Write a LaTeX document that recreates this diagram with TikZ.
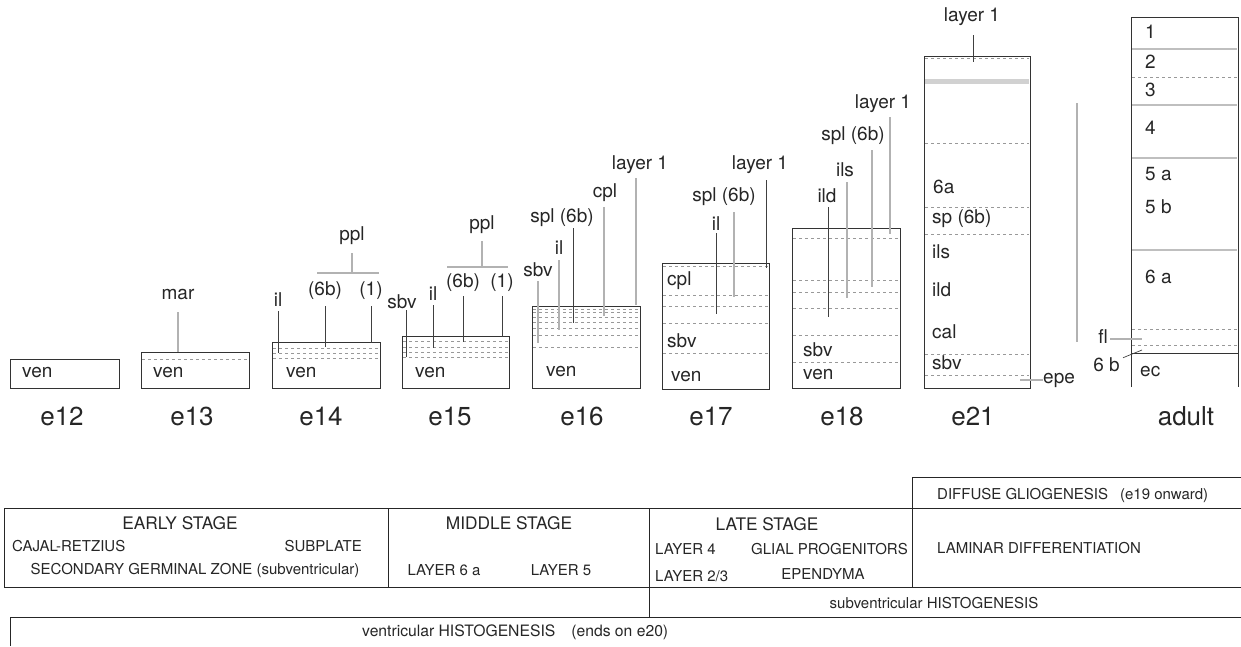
\documentclass[tikz,border=0pt]{standalone}
\usepackage{fontspec}
\setmainfont{TeX Gyre Heros}
\usetikzlibrary{
  positioning,
}
% leader line with its label: [style]{name}{x}{y top}{y bottom}{label pos}{text}
\newcommand{\ldr}[7][leadk]{%
  \coordinate (#2-t) at (#3,#4);
  \coordinate (#2-b) at (#3,#5);
  \draw[#1] (#2-t) -- (#2-b);
  \node[lbl] (#2) at (#6) {#7};
}
\tikzset{
  every node/.style={
    text=black!85
  },
  lbl/.style={
    font=\fontsize{19}{22}\selectfont,
    inner sep=0pt
  },
  intext/.style={
    lbl,
    anchor=west
  },
  age/.style={
    font=\fontsize{26}{30}\selectfont,
    inner sep=0pt
  },
  head/.style={
    font=\fontsize{17.3}{20}\selectfont,
    inner sep=0pt
  },
  cell/.style={
    font=\fontsize{15}{18}\selectfont,
    inner sep=0pt
  },
  ebox/.style={
    draw=black!80,
    line width=0.9pt
  },
  zone/.style={
    draw=black!40,
    dash pattern=on 3pt off 3pt,
    line width=0.5pt
  },
  band/.style={
    draw=black!25,
    line width=1.2pt
  },
  leadk/.style={
    draw=black!75,
    line width=0.7pt
  },
  leadg/.style={
    draw=black!30,
    line width=1.3pt
  },
  sheet/.style={
    draw=black!85,
    line width=0.9pt
  }
}

\begin{document}
\begin{tikzpicture}[x=1pt,y=-1pt]
\useasboundingbox (0,0) rectangle (1241,646);

% e12
\draw[ebox] (10,359) rectangle (119,388);
\node[intext] (v12) at (22,373) {ven};

% e13
\draw[ebox] (141,352) rectangle (249,388);
\draw[zone] (142,359) -- (248,359);
\node[intext] (v13) at (153,373) {ven};
\ldr[leadg]{mar13}{178}{312}{352}{178,295}{mar}

% e14
\draw[ebox] (272,342) rectangle (380,388);
\foreach \y in {348,353,358}
  \draw[zone] (273,\y) -- (379,\y);
\node[intext] (v14) at (286,373) {ven};
\ldr{il14}{278}{311}{353}{278,300}{il}
\ldr{sb14}{325}{306}{347}{325,291}{(6b)}
\ldr{on14}{371}{306}{343}{371,291}{(1)}
\ldr[leadg]{ppl14}{352}{253}{273}{352,236}{ppl}
\coordinate (ppl14-l) at (317,273);
\coordinate (ppl14-r) at (379,273);
\draw[leadg] (ppl14-l) -- (ppl14-r);

% e15
\draw[ebox] (402,336) rectangle (509,388);
\foreach \y in {341,347,352,357}
  \draw[zone] (403,\y) -- (508,\y);
\node[intext] (v15) at (415,373) {ven};
\ldr{sbv15}{406}{310}{357}{402,302}{sbv}
\ldr{il15}{433}{305}{348}{433,294}{il}
\ldr{sb15}{463}{296}{342}{463,283}{(6b)}
\ldr{on15}{502}{296}{337}{502,283}{(1)}
\ldr[leadg]{ppl15}{482}{241}{267}{482,225}{ppl}
\coordinate (ppl15-l) at (447,267);
\coordinate (ppl15-r) at (508,267);
\draw[leadg] (ppl15-l) -- (ppl15-r);

% e16
\draw[ebox] (532,306) rectangle (640,388);
\foreach \y in {309,312,317,322,328,335,347}
  \draw[zone] (533,\y) -- (639,\y);
\node[intext] (v16) at (546,372) {ven};
\ldr[leadg]{sbv16}{538}{281}{343}{538,270}{sbv}
\ldr[leadg]{il16}{559}{260}{330}{559,248}{il}
\ldr{spl16}{573}{228}{323}{562,218}{spl (6b)}
\ldr[leadg]{cpl16}{604}{207}{316}{605,193}{cpl}
\ldr[leadg]{lay16}{636}{178}{305}{640,165}{layer 1}

% e17
\draw[ebox] (662,263) rectangle (769,389);
\foreach \y in {266,295,306,323,353}
  \draw[zone] (663,\y) -- (768,\y);
\node[intext] (c17) at (667,281) {cpl};
\node[intext] (s17) at (667,341) {sbv};
\node[intext] (v17) at (671,377) {ven};
\ldr{il17}{716}{233}{314}{716,224}{il}
\ldr[leadg]{spl17}{734}{212}{297}{724,197}{spl (6b)}
\ldr{lay17}{766}{180}{268}{760,165}{layer 1}

% e18
\draw[ebox] (792,228) rectangle (900,388);
\foreach \y in {238,280,292,308,335,362}
  \draw[zone] (793,\y) -- (899,\y);
\node[intext] (s18) at (803,350) {sbv};
\node[intext] (v18) at (803,375) {ven};
\ldr{ild18}{828}{207}{317}{827,196}{ild}
\ldr[leadg]{ils18}{847}{182}{298}{845,170}{ils}
\ldr[leadg]{spl18}{872}{150}{287}{853,136}{spl (6b)}
\ldr[leadg]{lay18}{890}{117}{234}{883,104}{layer 1}

% e21
\draw[ebox] (924,56) rectangle (1030,388);
\draw[zone] (925,58) -- (1029,58);
\draw[black!18,line width=5pt] (925,81) -- (1029,81);
\foreach \y in {143,207,234,354,375}
  \draw[zone] (925,\y) -- (1029,\y);
\node[intext] (a21) at (933,187) {6a};
\node[intext] (sp21) at (932,219) {sp (6b)};
\node[intext] (is21) at (932,252) {ils};
\node[intext] (id21) at (932,290) {ild};
\node[intext] (ca21) at (932,332) {cal};
\node[intext] (sv21) at (932,363) {sbv};
\ldr{lay21}{973}{35}{62}{972,17}{layer 1}
\node[lbl,anchor=west] (epe) at (1043,380) {epe};
\coordinate (epe-t) at (1020,380);
\draw[leadg] (epe-t) -- (epe.west);
\coordinate (gv-t) at (1077,103);
\coordinate (gv-b) at (1077,342);
\draw[leadg] (gv-t) -- (gv-b);

% adult
\draw[ebox] (1131,387) -- (1131,17) -- (1238,17) -- (1238,387);
\foreach \y in {49,105,158,250}
  \draw[band] (1132,\y) -- (1237,\y);
\foreach \y in {77,329,345}
  \draw[zone] (1132,\y) -- (1237,\y);
\draw[ebox] (1131,353) -- (1238,353);
\foreach \t/\y in {1/32,2/62,3/90,4/128,5 a/174,5 b/207,6 a/277}
  \node[intext] at (1145,\y) {\t};
\node[intext] (ec) at (1140,372) {ec};
\node[lbl,anchor=east] (fl) at (1108,337) {fl};
\coordinate (fl-e) at (1142,339);
\draw[leadg] (fl.east |- fl-e) ++(2,0) -- (fl-e);
\node[lbl,anchor=east] (sixb) at (1120,365) {6 b};
\coordinate (sixb-e) at (1142,350);
\draw[leadk] (sixb.north east) ++(3,0) -- (sixb-e);

% ages
\foreach \t/\x in {e12/62,e13/192,e14/321,e15/450,e16/582,e17/711,e18/842,e21/973,adult/1186}
  \node[age] (\t) at (\x,416) {\t};

% stages table
\draw[sheet] (4,508) -- (1241,508);
\draw[sheet] (4,587) -- (1241,587);
\draw[sheet] (4,508) -- (4,587);
\draw[sheet] (388,508) -- (388,587);
\draw[sheet] (649,508) -- (649,617);
\draw[sheet] (912,477) -- (912,587);
\draw[sheet] (912,477) -- (1241,477);
\draw[sheet] (649,617) -- (1241,617);
\draw[sheet] (10,646) -- (10,617) -- (912,617);

\node[head] (early) at (180,523) {EARLY STAGE};
\node[cell,anchor=west] (cr) at (12,546) {CAJAL-RETZIUS};
\node[cell,anchor=east] (subp) at (362,546) {SUBPLATE};
\node[cell] (sgz) at (195,570) {SECONDARY GERMINAL ZONE (subventricular)};

\node[head] (middle) at (509,523) {MIDDLE STAGE};
\node[cell] (l6a) at (444,570) {LAYER 6 a};
\node[cell] (l5) at (561,570) {LAYER 5};

\node[head] (late) at (767,524) {LATE STAGE};
\node[cell,anchor=west] (l4) at (655,549) {LAYER 4};
\node[cell,anchor=east] (glia) at (908,549) {GLIAL PROGENITORS};
\node[cell,anchor=west] (l23) at (655,576) {LAYER 2/3};
\node[cell] (epen) at (823,574) {EPENDYMA};

\node[cell,anchor=west] (diff) at (937,495) {DIFFUSE GLIOGENESIS\hspace{12pt}(e19 onward)};
\node[cell,anchor=west] (lam) at (937,548) {LAMINAR DIFFERENTIATION};
\node[cell] (svh) at (934,603) {subventricular HISTOGENESIS};
\node[cell,anchor=west,font=\fontsize{15.7}{18}\selectfont] (vh) at (362,632)
  {ventricular HISTOGENESIS\hspace{16pt}(ends on e20)};
\end{tikzpicture}
\end{document}
